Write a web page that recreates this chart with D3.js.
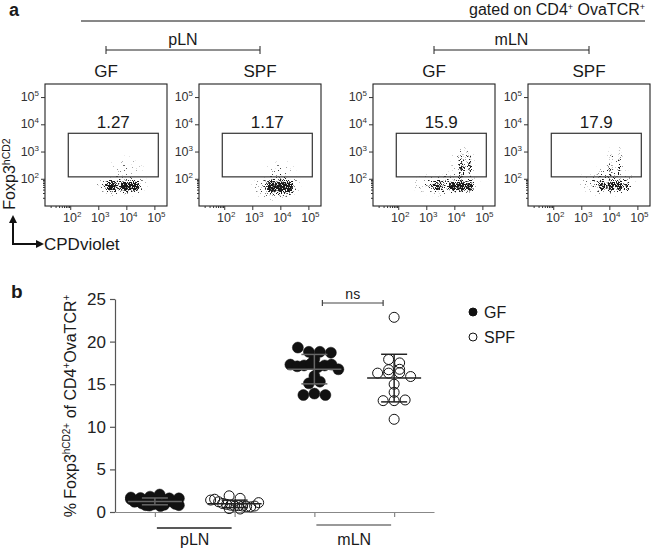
<!DOCTYPE html>
<html>
<head>
<meta charset="utf-8">
<script src="https://cdn.jsdelivr.net/npm/d3@7"></script>
<style>
  body { margin: 0; background: #fff; }
  svg text { font-family: "Liberation Sans", Arial, sans-serif; fill: #1a1a1a; }
</style>
</head>
<body>
<svg id="chart" width="651" height="550"></svg>
<script>
// ---------- panel a: flow plots ----------
const facsTissues = ['pLN', 'pLN', 'mLN', 'mLN'];
const facsGroups = ['GF', 'SPF', 'GF', 'SPF'];
const gatePercents = ['1.27', '1.17', '15.9', '17.9'];
const logTicks = [1e2, 1e3, 1e4, 1e5];
const logTickExp = ['2', '3', '4', '5'];
// gate in data units: [xmin, xmax, ymin, ymax]
const gate = [10 ** 1.93, 10 ** 5.14, 10 ** 2.07, 10 ** 3.67];
// density blobs: [log10 x, log10 y, x spread (decades), y spread (decades), density]
const blobsPlnGF = [
  [3.45, 1.72, 0.3, 0.28, 0.9], [3.95, 1.72, 0.28, 0.3, 1], [4.3, 1.72, 0.28, 0.28, 0.95],
  [3.85, 1.75, 1.1, 0.45, 0.45], [4.0, 2.4, 0.7, 0.5, 0.15]
];
const blobsPlnSPF = [
  [3.7, 1.7, 0.28, 0.35, 0.95], [4.02, 1.7, 0.25, 0.38, 1], [4.3, 1.7, 0.25, 0.35, 0.95],
  [3.9, 1.7, 1.0, 0.55, 0.45], [4.0, 2.3, 0.6, 0.45, 0.18]
];
const blobsMlnGF = [
  [3.4, 1.72, 0.3, 0.25, 0.7], [3.95, 1.72, 0.25, 0.28, 0.95], [4.25, 1.72, 0.22, 0.3, 1],
  [4.55, 1.72, 0.22, 0.3, 0.95], [4.25, 2.4, 0.15, 0.7, 0.55], [4.55, 2.45, 0.15, 0.75, 0.5],
  [3.7, 1.8, 1.3, 0.5, 0.4], [4.3, 2.6, 0.5, 0.7, 0.22]
];
const blobsMlnSPF = [
  [3.75, 1.72, 0.22, 0.28, 0.8], [4.05, 1.72, 0.2, 0.3, 0.9], [4.35, 1.72, 0.2, 0.3, 0.9],
  [4.62, 1.72, 0.18, 0.28, 0.7], [4.05, 2.5, 0.15, 0.75, 0.4], [4.35, 2.5, 0.15, 0.75, 0.4],
  [3.9, 1.9, 1.1, 0.6, 0.35]
];
const facsBlobs = [blobsPlnGF, blobsPlnSPF, blobsMlnGF, blobsMlnSPF];

// ---------- panel b: scatter ----------
const categories = ['pLN GF', 'pLN SPF', 'mLN GF', 'mLN SPF'];
const tissues = ['pLN', 'mLN'];
const yTicksB = [0, 5, 10, 15, 20, 25];
const plnGF = [1.7, 1.65, 1.8, 1.5, 2.05, 1.6, 1.2, 1.3, 1.0, 0.8, 0.75, 0.9, 1.1, 0.7, 0.85, 1.4, 1.25, 0.95, 1.6, 0.8];
const plnSPF = [1.9, 1.6, 1.4, 1.5, 1.2, 1.0, 0.9, 0.8, 0.7, 0.75, 0.7, 0.65, 0.6, 0.7, 0.4, 0.35, 1.1];
const mlnGF = [19.3, 18.8, 18.8, 18.7, 18.0, 17.3, 17.1, 17.2, 17.4, 17.0, 17.2, 17.3, 16.75, 15.96, 15.1, 15.3, 13.73, 13.9, 13.73];
const mlnSPF = [22.85, 17.9, 17.5, 16.7, 16.3, 16.3, 16.35, 16.75, 15.9, 15.0, 14.05, 13.07, 13.07, 13.15, 10.88];
const seriesB = [plnGF, plnSPF, mlnGF, mlnSPF];

const svg = d3.select('#chart');
const defs = svg.append('defs');

// speckle filter: a pixel turns dark with a chance equal to the blob's local opacity
const f = defs.append('filter').attr('id', 'speckle')
  .attr('filterUnits', 'userSpaceOnUse').attr('x', 0).attr('y', 0).attr('width', 651).attr('height', 550)
  .attr('color-interpolation-filters', 'sRGB');
f.append('feTurbulence').attr('type', 'fractalNoise').attr('baseFrequency', 0.8)
  .attr('numOctaves', 2).attr('seed', 7).attr('result', 'noise');
f.append('feColorMatrix').attr('in', 'noise').attr('type', 'matrix')
  .attr('values', '0 0 0 0 0  0 0 0 0 0  0 0 0 0 0  -2.2 0 0 0 1.6').attr('result', 'na');
f.append('feComposite').attr('in', 'SourceGraphic').attr('in2', 'na').attr('operator', 'arithmetic')
  .attr('k1', 0).attr('k2', 1).attr('k3', 1).attr('k4', -1).attr('result', 'c');
f.append('feColorMatrix').attr('in', 'c').attr('type', 'matrix')
  .attr('values', '0 0 0 0 0.1  0 0 0 0 0.1  0 0 0 0 0.1  0 0 0 5 0');

const grad = defs.append('radialGradient').attr('id', 'blob');
[[0, 1], [0.35, 0.8], [0.65, 0.38], [1, 0]].forEach(s => {
  grad.append('stop').attr('offset', s[0]).attr('stop-color', '#000').attr('stop-opacity', s[1]);
});

// "a" label, header line
svg.append('text').attr('x', 9).attr('y', 16).style('font-weight', 'bold').style('font-size', '18px').text('a');
svg.append('line').attr('x1', 81).attr('x2', 645).attr('y1', 21).attr('y2', 21).attr('stroke', '#111');
const gated = svg.append('text').attr('x', 645).attr('y', 15).attr('text-anchor', 'end').style('font-size', '16px');
gated.append('tspan').text('gated on CD4');
gated.append('tspan').attr('dy', -5).style('font-size', '9px').text('+');
gated.append('tspan').attr('dy', 5).text(' OvaTCR');
gated.append('tspan').attr('dy', -5).style('font-size', '9px').text('+');

const boxX = [45, 199, 373, 528], boxY = 84, boxS = 122;
const xF = d3.scaleLog().domain([10 ** 1.1, 10 ** 5.45]).range([0, boxS]);
const yF = d3.scaleLog().domain([10, 10 ** 5.48]).range([boxS, 0]);
const minorTicks = d3.range(2, 10).map(k => k * 10).filter(v => v > 10 ** 1.1);

// tissue brackets
tissues.forEach((t, ti) => {
  const xa = boxX[ti * 2] + boxS / 2, xb = boxX[ti * 2 + 1] + boxS / 2;
  const g = svg.append('g').attr('stroke', '#222').attr('stroke-width', 1);
  g.append('line').attr('x1', xa).attr('x2', xb).attr('y1', 50).attr('y2', 50);
  g.append('line').attr('x1', xa).attr('x2', xa).attr('y1', 46).attr('y2', 54);
  g.append('line').attr('x1', xb).attr('x2', xb).attr('y1', 46).attr('y2', 54);
  svg.append('text').attr('x', (xa + xb) / 2).attr('y', 45).attr('text-anchor', 'middle')
    .style('font-size', '16px').text(t);
});

facsGroups.forEach((grp, i) => {
  const g = svg.append('g').attr('transform', `translate(${boxX[i]},${boxY})`);
  svg.append('text').attr('x', boxX[i] + boxS / 2).attr('y', 77).attr('text-anchor', 'middle')
    .style('font-size', '17px').text(grp);

  const clipId = 'clip' + i;
  defs.append('clipPath').attr('id', clipId).append('rect').attr('width', boxS).attr('height', boxS);

  // dots
  const dots = g.append('g').attr('clip-path', `url(#${clipId})`)
    .append('g').attr('filter', 'url(#speckle)');
  dots.selectAll('ellipse').data(facsBlobs[i]).join('ellipse')
    .attr('cx', d => xF(10 ** d[0]))
    .attr('cy', d => yF(10 ** d[1]))
    .attr('rx', d => xF(10 ** (d[0] + d[2])) - xF(10 ** d[0]))
    .attr('ry', d => yF(10 ** d[1]) - yF(10 ** (d[1] + d[3])))
    .attr('fill', 'url(#blob)')
    .attr('opacity', d => d[4]);

  // frame
  g.append('rect').attr('width', boxS).attr('height', boxS).attr('fill', 'none')
    .attr('stroke', '#222').attr('stroke-width', 1.1);

  // gate
  g.append('rect').attr('x', xF(gate[0])).attr('y', yF(gate[3]))
    .attr('width', xF(gate[1]) - xF(gate[0])).attr('height', yF(gate[2]) - yF(gate[3]))
    .attr('fill', 'none').attr('stroke', '#333').attr('stroke-width', 1.2);
  g.append('text').attr('x', (xF(gate[0]) + xF(gate[1])) / 2).attr('y', yF(gate[3]) - 5)
    .attr('text-anchor', 'middle').style('font-size', '17px').text(gatePercents[i]);

  // axes
  const ya = g.append('g').call(d3.axisLeft(yF).tickValues(logTicks).tickSize(4).tickFormat(''));
  ya.select('.domain').remove();
  ya.append('g').call(d3.axisLeft(yF).tickValues(minorTicks).tickSize(2).tickFormat(''))
    .select('.domain').remove();
  const xa = g.append('g').attr('transform', `translate(0,${boxS})`)
    .call(d3.axisBottom(xF).tickValues(logTicks).tickSize(4).tickFormat(''));
  xa.select('.domain').remove();
  xa.append('g').call(d3.axisBottom(xF).tickValues(minorTicks).tickSize(2).tickFormat(''))
    .select('.domain').remove();
  g.selectAll('.tick line').attr('stroke', '#333');

  logTicks.forEach((v, k) => {
    const ty = g.append('text').attr('x', -6).attr('y', yF(v) + 4).attr('text-anchor', 'end')
      .style('font-size', '12.5px').style('fill', '#333');
    ty.append('tspan').text('10');
    ty.append('tspan').attr('dy', -5).style('font-size', '8px').text(logTickExp[k]);
    const tx = g.append('text').attr('x', xF(v) + 2).attr('y', boxS + 16).attr('text-anchor', 'middle')
      .style('font-size', '12.5px').style('fill', '#333');
    tx.append('tspan').text('10');
    tx.append('tspan').attr('dy', -5).style('font-size', '8px').text(logTickExp[k]);
  });
});

// axis legend for panel a
const foxp = svg.append('text').attr('transform', 'translate(15,174) rotate(-90)')
  .attr('text-anchor', 'middle').style('font-size', '16px');
foxp.append('tspan').text('Foxp3');
foxp.append('tspan').attr('dy', -5).style('font-size', '10.5px').text('hCD2');
svg.append('path').attr('d', 'M13,222 V244 H38').attr('fill', 'none').attr('stroke', '#111').attr('stroke-width', 2);
svg.append('path').attr('d', 'M13,215 L9,223 L17,223 Z').attr('fill', '#111');
svg.append('path').attr('d', 'M44,244 L36,240 L36,248 Z').attr('fill', '#111');
svg.append('text').attr('x', 44).attr('y', 250).style('font-size', '17px').text('CPDviolet');

// ---------- panel b ----------
svg.append('text').attr('x', 11).attr('y', 298).style('font-weight', 'bold').style('font-size', '19px').text('b');

const yB = d3.scaleLinear().domain([0, 25]).range([512, 299]);
const xB = d3.scalePoint().domain(categories).range([115, 434]).padding(0.5);
const r = 5.5;

const yAxis = svg.append('g').attr('transform', 'translate(115,0)')
  .call(d3.axisLeft(yB).tickValues(yTicksB).tickSize(5).tickSizeOuter(0));
yAxis.select('.domain').attr('stroke', '#555').attr('stroke-width', 1.2);
yAxis.selectAll('.tick line').attr('stroke', '#555').attr('stroke-width', 1.2);
yAxis.selectAll('.tick text').style('font-size', '17px').style('font-family', '"Liberation Sans", Arial, sans-serif')
  .style('fill', '#222').attr('x', -9);

const xAxis = svg.append('g').attr('transform', 'translate(0,512)')
  .call(d3.axisBottom(xB).tickSize(5).tickSizeOuter(0).tickFormat(''));
xAxis.select('.domain').attr('stroke', '#888').attr('stroke-width', 1.2);
xAxis.selectAll('.tick line').attr('stroke', '#888').attr('stroke-width', 1.2);

const ylab = svg.append('text').attr('transform', 'translate(76,406) rotate(-90)')
  .attr('text-anchor', 'middle').style('font-size', '16px');
ylab.append('tspan').text('% Foxp3');
ylab.append('tspan').attr('dy', -6).style('font-size', '10px').text('hCD2+');
ylab.append('tspan').attr('dy', 6).text(' of CD4');
ylab.append('tspan').attr('dy', -6).style('font-size', '10px').text('+');
ylab.append('tspan').attr('dy', 6).text('OvaTCR');
ylab.append('tspan').attr('dy', -6).style('font-size', '10px').text('+');

// tissue group underlines
tissues.forEach((t, ti) => {
  const xa = xB(categories[ti * 2]), xb = xB(categories[ti * 2 + 1]);
  svg.append('line').attr('x1', xa + 2).attr('x2', xb - 3).attr('y1', ti ? 525 : 528).attr('y2', ti ? 525 : 528)
    .attr('stroke', ti ? '#777' : '#222').attr('stroke-width', 1.3);
  svg.append('text').attr('x', (xa + xb) / 2).attr('y', 545).attr('text-anchor', 'middle')
    .style('font-size', '16px').text(t);
});

// binned scatter layout, like column scatter plots
function layout(values, cx) {
  const binH = 9, maxHalf = 24, spacing = 2 * r;
  const bins = d3.group(values.map((v, i) => ({ v, i })), d => Math.round((512 - yB(d.v)) / binH));
  const pts = [];
  bins.forEach(items => {
    const n = items.length;
    const step = n > 1 ? Math.min(spacing, (2 * maxHalf) / (n - 1)) : 0;
    items.forEach((d, k) => pts.push({ x: cx + (k - (n - 1) / 2) * step, y: yB(d.v) }));
  });
  return pts;
}

seriesB.forEach((vals, i) => {
  const cx = xB(categories[i]);
  const filled = i % 2 === 0;
  svg.append('g').selectAll('circle').data(layout(vals, cx)).join('circle')
    .attr('cx', d => d.x).attr('cy', d => d.y).attr('r', filled ? r : r - 0.5)
    .attr('fill', filled ? '#111' : 'none')
    .attr('stroke', '#111').attr('stroke-width', filled ? 0.5 : 1);

  const m = d3.mean(vals), sd = d3.deviation(vals);
  const g = svg.append('g').attr('stroke', filled ? '#666' : '#222').attr('stroke-width', 1.5);
  g.append('line').attr('x1', cx - 27).attr('x2', cx + 27).attr('y1', yB(m)).attr('y2', yB(m));
  g.append('line').attr('x1', cx).attr('x2', cx).attr('y1', yB(m + sd)).attr('y2', yB(m - sd));
  [m + sd, m - sd].forEach(v => {
    g.append('line').attr('x1', cx - 13).attr('x2', cx + 13).attr('y1', yB(v)).attr('y2', yB(v));
  });
});

// ns bracket
const nsA = xB(categories[2]) + 8, nsB = xB(categories[3]) - 11;
const ns = svg.append('g').attr('stroke', '#444').attr('stroke-width', 1.2);
ns.append('line').attr('x1', nsA).attr('x2', nsB).attr('y1', 303).attr('y2', 303);
ns.append('line').attr('x1', nsA).attr('x2', nsA).attr('y1', 300).attr('y2', 306);
ns.append('line').attr('x1', nsB).attr('x2', nsB).attr('y1', 300).attr('y2', 306);
svg.append('text').attr('x', (nsA + nsB) / 2).attr('y', 299).attr('text-anchor', 'middle')
  .style('font-size', '14px').text('ns');

// legend
const legend = svg.append('g').attr('transform', 'translate(473,312)');
['GF', 'SPF'].forEach((name, k) => {
  legend.append('circle').attr('cx', 0).attr('cy', k * 25).attr('r', 4)
    .attr('fill', k ? 'none' : '#111').attr('stroke', '#111').attr('stroke-width', 1);
  legend.append('text').attr('x', 11).attr('y', k * 25 + 6).style('font-size', '16px').text(name);
});
</script>
</body>
</html>
